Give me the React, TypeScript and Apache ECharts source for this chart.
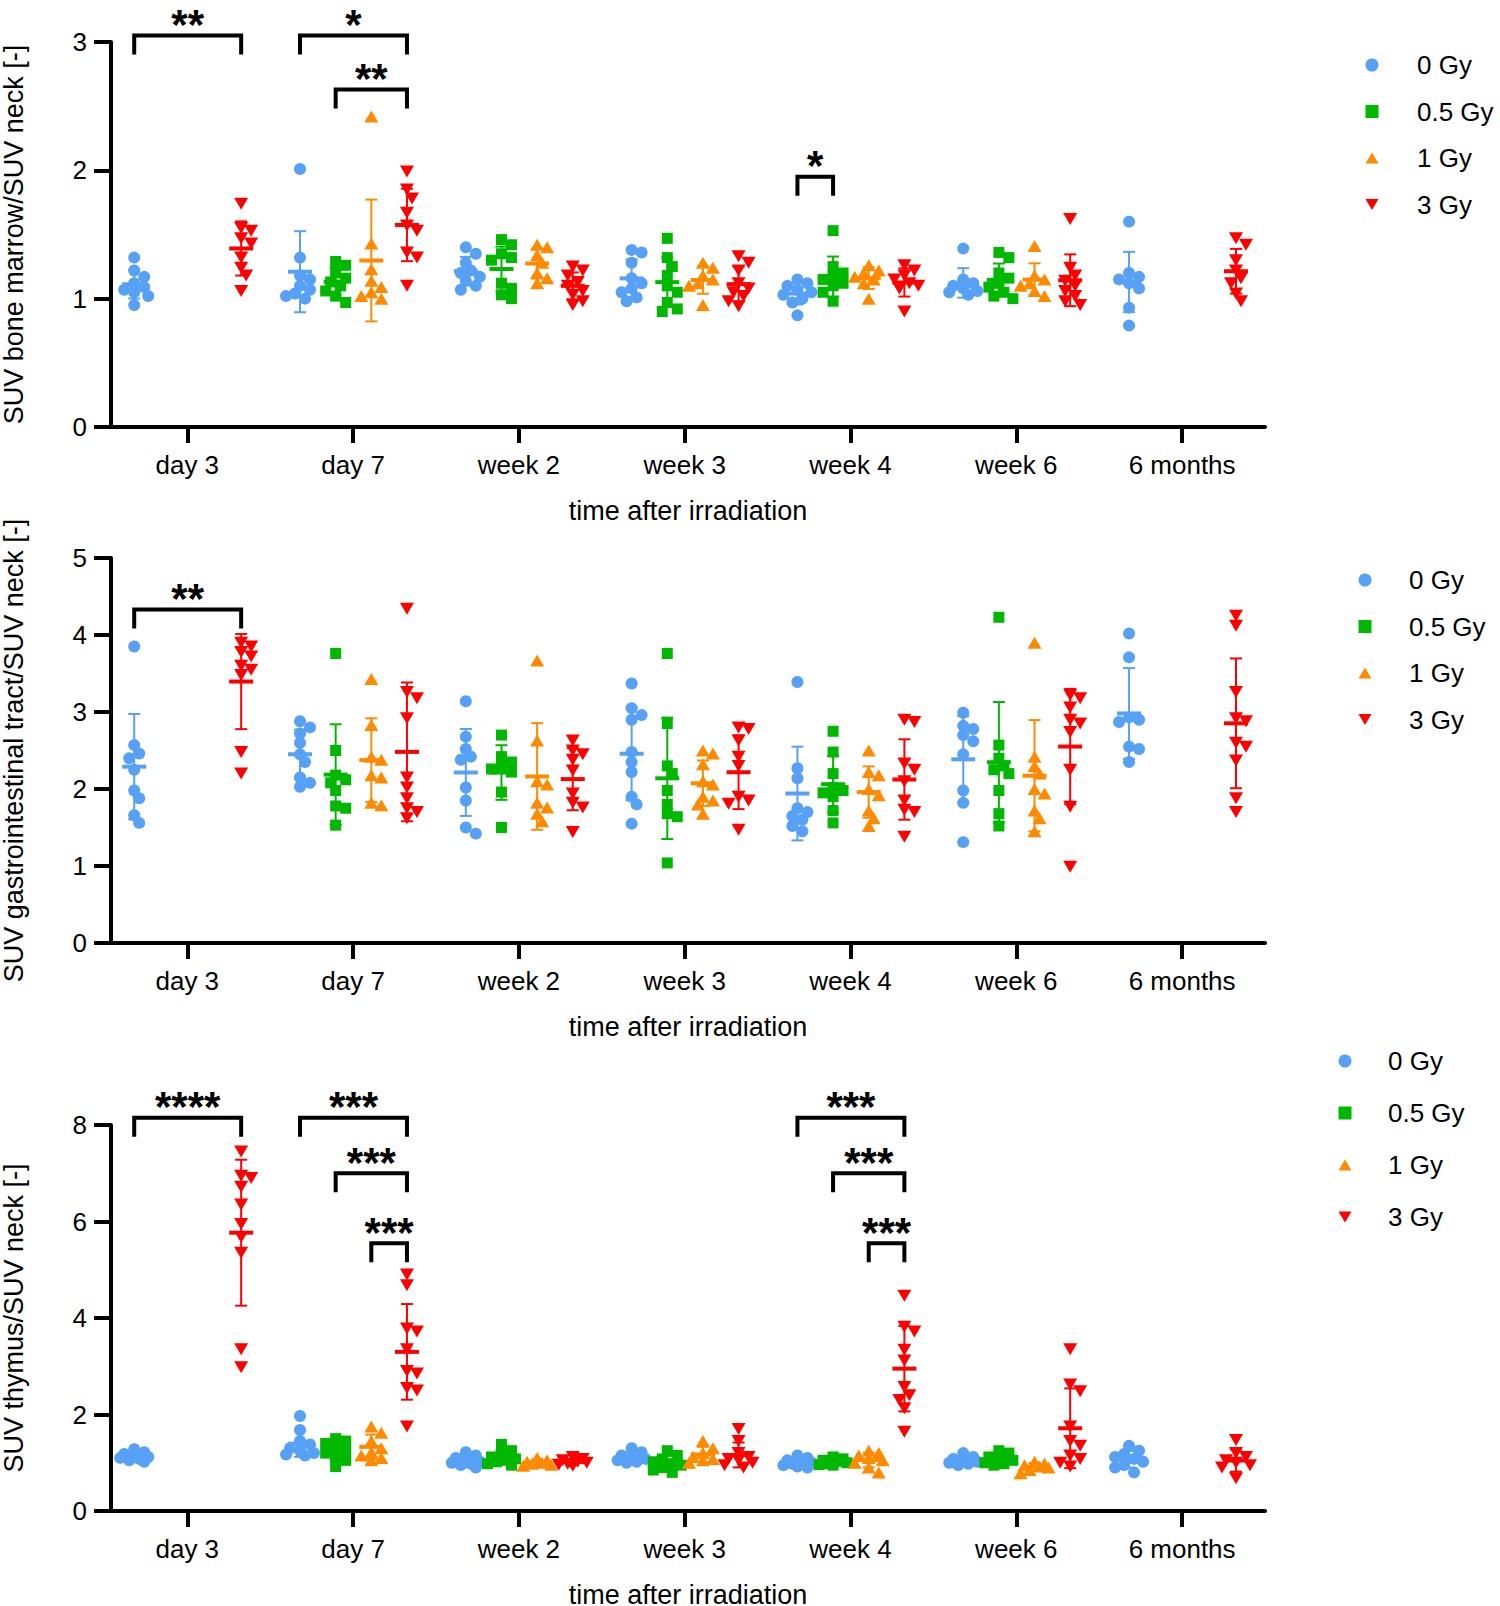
import React, { useEffect, useRef } from "react";
import * as echarts from "echarts";

const categories = ["day 3", "day 7", "week 2", "week 3", "week 4", "week 6", "6 months"];
const doseLabels = ["0 Gy", "0.5 Gy", "1 Gy", "3 Gy"];
const doseColors = ["#56A0F5", "#00B800", "#FF8A00", "#FF0000"];
const yTitles = [
  "SUV bone marrow/SUV neck [-]",
  "SUV gastrointestinal tract/SUV neck [-]",
  "SUV thymus/SUV neck [-]",
];
const xTitle = "time after irradiation";

// Panel 1: bone marrow (one array per dose, one sub-array per time point)
const bm0 = [
  [1.32, 1.22, 1.17, 1.12, 1.09, 1.07, 1.05, 1.02, 0.95],
  [2.01, 1.32, 1.18, 1.15, 1.1, 1.07, 1.04, 1.02, 1.0],
  [1.4, 1.35, 1.28, 1.22, 1.2, 1.17, 1.14, 1.1, 1.07],
  [1.38, 1.36, 1.28, 1.16, 1.12, 1.08, 1.05, 1.01, 0.98],
  [1.15, 1.12, 1.1, 1.07, 1.05, 1.03, 1.0, 0.97, 0.87],
  [1.39, 1.15, 1.12, 1.1, 1.08, 1.06, 1.05, 1.03],
  [1.6, 1.2, 1.17, 1.15, 1.12, 1.08, 0.93, 0.79],
];
const bm05 = [
  [],
  [1.29, 1.26, 1.2, 1.16, 1.13, 1.1, 1.06, 1.02, 0.97],
  [1.46, 1.42, 1.35, 1.32, 1.3, 1.12, 1.08, 1.03, 1.0],
  [1.47, 1.32, 1.25, 1.18, 1.1, 1.05, 0.97, 0.92, 0.9],
  [1.53, 1.25, 1.2, 1.17, 1.15, 1.12, 1.1, 1.05, 0.98],
  [1.36, 1.32, 1.2, 1.16, 1.12, 1.09, 1.05, 1.02, 1.0],
  [],
];
const bm1 = [
  [],
  [2.42, 1.43, 1.23, 1.14, 1.09, 1.05, 1.02, 1.0],
  [1.42, 1.4, 1.34, 1.28, 1.2, 1.16, 1.12],
  [1.28, 1.24, 1.18, 1.15, 1.12, 1.1, 0.95],
  [1.26, 1.22, 1.2, 1.17, 1.15, 1.12, 1.0],
  [1.41, 1.18, 1.15, 1.12, 1.1, 1.06, 1.02],
  [],
];
const bm3 = [
  [1.74, 1.55, 1.53, 1.47, 1.43, 1.32, 1.24, 1.18, 1.06],
  [1.99, 1.85, 1.78, 1.67, 1.57, 1.53, 1.36, 1.32, 1.1],
  [1.25, 1.22, 1.18, 1.13, 1.1, 1.06, 1.03, 0.98, 0.95],
  [1.33, 1.28, 1.22, 1.12, 1.08, 1.05, 1.02, 0.98, 0.94],
  [1.26, 1.22, 1.18, 1.15, 1.12, 1.1, 1.08, 0.9],
  [1.62, 1.24, 1.18, 1.14, 1.1, 1.06, 1.02, 0.98, 0.95],
  [1.47, 1.42, 1.3, 1.22, 1.16, 1.12, 1.04, 0.98],
];

// Panel 2: gastrointestinal tract
const gi0 = [
  [3.85, 2.57, 2.46, 2.4, 2.25, 1.98, 1.88, 1.66, 1.56],
  [2.88, 2.8, 2.72, 2.6, 2.45, 2.35, 2.15, 2.08, 2.03],
  [3.14, 2.68, 2.52, 2.42, 2.38, 2.02, 1.85, 1.5, 1.42],
  [3.37, 3.05, 2.96, 2.9, 2.48, 2.35, 2.22, 1.9, 1.8, 1.55],
  [3.39, 2.27, 2.14, 1.75, 1.7, 1.65, 1.6, 1.52, 1.45],
  [2.99, 2.82, 2.78, 2.7, 2.62, 2.45, 1.98, 1.82, 1.31],
  [4.02, 3.71, 2.93, 2.9, 2.87, 2.55, 2.52, 2.35],
];
const gi05 = [
  [],
  [3.76, 2.5, 2.18, 2.12, 2.08, 1.98, 1.78, 1.75, 1.53],
  [2.7, 2.42, 2.35, 2.3, 2.26, 2.22, 1.96, 1.5],
  [3.76, 2.85, 2.3, 2.2, 1.98, 1.8, 1.68, 1.64, 1.04],
  [2.75, 2.48, 2.2, 2.02, 1.98, 1.95, 1.9, 1.72, 1.56],
  [4.23, 2.57, 2.4, 2.3, 2.25, 2.2, 1.98, 1.68, 1.52],
  [],
];
const gi1 = [
  [],
  [3.43, 2.83, 2.42, 2.38, 2.18, 2.15, 1.82, 1.79],
  [3.67, 2.63, 2.1, 2.06, 1.82, 1.76, 1.68, 1.58],
  [2.5, 2.46, 2.32, 2.1, 2.06, 1.9, 1.85, 1.8, 1.68],
  [2.5, 2.22, 2.18, 2.0, 1.92, 1.72, 1.62, 1.52],
  [3.9, 2.42, 2.3, 2.2, 2.0, 1.94, 1.72, 1.62, 1.45],
  [],
];
const gi3 = [
  [3.9, 3.85, 3.78, 3.72, 3.6, 3.55, 3.48, 2.48, 2.2],
  [4.34, 3.26, 3.18, 2.92, 2.15, 2.02, 1.88, 1.75, 1.7, 1.62],
  [2.63, 2.5, 2.45, 2.38, 2.24, 1.94, 1.82, 1.76, 1.44],
  [2.8, 2.78, 2.63, 2.42, 2.3, 1.9, 1.85, 1.81, 1.47],
  [2.9, 2.87, 2.33, 2.25, 2.1, 1.85, 1.73, 1.7, 1.38],
  [3.22, 3.18, 3.06, 2.9, 2.85, 2.74, 2.25, 1.77, 0.99],
  [4.25, 4.12, 3.26, 2.92, 2.88, 2.6, 2.55, 2.37, 1.88, 1.7],
];

// Panel 3: thymus
const th0 = [
  [1.28, 1.22, 1.18, 1.15, 1.12, 1.1, 1.08, 1.05, 1.02],
  [1.97, 1.68, 1.45, 1.38, 1.3, 1.25, 1.2, 1.17, 1.15],
  [1.22, 1.15, 1.1, 1.05, 1.02, 1.0, 0.98, 0.95, 0.9],
  [1.3, 1.22, 1.15, 1.1, 1.08, 1.05, 1.02, 1.0],
  [1.15, 1.1, 1.05, 1.02, 1.0, 0.98, 0.95, 0.92, 0.9],
  [1.2, 1.12, 1.08, 1.05, 1.02, 1.0, 0.98, 0.95],
  [1.35, 1.25, 1.18, 1.12, 1.08, 1.02, 0.95, 0.9, 0.8],
];
const th05 = [
  [],
  [1.5, 1.45, 1.4, 1.3, 1.25, 1.2, 1.12, 1.05, 0.92],
  [1.38, 1.25, 1.18, 1.12, 1.08, 1.05, 1.02, 0.98, 0.95],
  [1.25, 1.15, 1.08, 1.02, 0.98, 0.95, 0.9, 0.85, 0.8],
  [1.12, 1.08, 1.05, 1.03, 1.0, 0.98, 0.96, 0.95],
  [1.25, 1.2, 1.12, 1.08, 1.05, 1.0, 0.98, 0.95],
  [],
];
const th1 = [
  [],
  [1.75, 1.62, 1.45, 1.3, 1.22, 1.15, 1.1, 1.05],
  [1.1, 1.05, 1.02, 1.0, 0.98, 0.96, 0.94],
  [1.45, 1.3, 1.2, 1.12, 1.08, 1.05, 1.0],
  [1.25, 1.2, 1.15, 1.1, 1.05, 1.0, 0.9, 0.8],
  [1.02, 0.98, 0.95, 0.92, 0.9, 0.85, 0.78],
  [],
];
const th3 = [
  [7.45, 6.95, 6.9, 6.72, 6.35, 5.95, 5.68, 5.35, 3.35, 2.98],
  [4.9, 4.68, 3.78, 3.72, 3.35, 2.9, 2.85, 2.55, 2.5, 1.75],
  [1.12, 1.08, 1.05, 1.02, 1.0, 0.98, 0.96, 0.94],
  [1.7, 1.45, 1.2, 1.12, 1.08, 1.05, 1.0, 0.95, 0.9],
  [4.46, 3.82, 3.72, 3.34, 3.12, 2.57, 2.4, 2.3, 2.13, 1.64],
  [3.35, 2.62, 2.48, 1.75, 1.45, 1.35, 1.15, 1.08, 1.0, 0.92],
  [1.47, 1.2, 1.12, 1.05, 1.0, 0.95, 0.9, 0.68],
];

// Significance brackets: [time index, from dose, to dose, bracket height, label]
const bmBrackets: [number, number, number, number, string][] = [
  [0, 0, 3, 3.05, "**"],
  [1, 0, 3, 3.05, "*"],
  [1, 1, 3, 2.63, "**"],
  [4, 0, 1, 1.95, "*"],
];
const giBrackets: [number, number, number, number, string][] = [[0, 0, 3, 4.33, "**"]];
const thBrackets: [number, number, number, number, string][] = [
  [0, 0, 3, 8.15, "****"],
  [1, 0, 3, 8.15, "***"],
  [1, 1, 3, 7.0, "***"],
  [1, 2, 3, 5.55, "***"],
  [4, 0, 3, 8.15, "***"],
  [4, 1, 3, 7.0, "***"],
  [4, 2, 3, 5.55, "***"],
];

const yMax = [3, 5, 8];
const yInterval = [1, 1, 2];

// ---- layout constants ----
const FONT = "'Liberation Sans', Arial, sans-serif";
const GRID_LEFT = 111;
const GRID_WIDTH = 1154;
const X_MIN = -0.46;
const X_MAX = 6.5;
const PX_PER_X = GRID_WIDTH / (X_MAX - X_MIN);
const gridTops = [42, 558, 1125];
const gridHeights = [385, 385, 386];
const doseOffsets = [-0.32, -0.105, 0.11, 0.325];
const legendPos = [
  { iconX: 1372, textX: 1417, top: 52, gap: 20.5 },
  { iconX: 1365, textX: 1409, top: 567, gap: 20.5 },
  { iconX: 1345, textX: 1388, top: 1048, gap: 26 },
];
const INV_TRI = "path://M0,0L20,0L10,17Z";
const TRI = "path://M10,0L20,17L0,17Z";
const symbols = ["circle", "rect", "triangle", "triangle"];
const symbolSizes: any[] = [12, 11, [14, 12], [14, 12]];
const legendIcons = ["circle", "rect", TRI, INV_TRI];

function swarmOffsets(vals: number[], pxPerY: number): number[] {
  const order = vals.map((_, i) => i).sort((a, b) => vals[b] - vals[a]);
  const placed: { x: number; y: number }[] = [];
  const res = new Array(vals.length).fill(0);
  const cands = [0, 5, -5, 10, -10, 14, -14];
  const minD = 9;
  for (const i of order) {
    const y = vals[i] * pxPerY;
    let best = 0;
    let bestScore = -1;
    for (const c of cands) {
      let md = Infinity;
      for (const p of placed) md = Math.min(md, Math.hypot(p.x - c, p.y - y));
      if (md >= minD) {
        best = c;
        break;
      }
      if (md > bestScore) {
        bestScore = md;
        best = c;
      }
    }
    placed.push({ x: best, y });
    res[i] = best;
  }
  return res;
}

function meanSd(v: number[]) {
  const n = v.length;
  const m = v.reduce((a, b) => a + b, 0) / n;
  const s = n > 1 ? Math.sqrt(v.reduce((a, b) => a + (b - m) * (b - m), 0) / (n - 1)) : 0;
  return [m, s];
}

function buildOption() {
  const panels = [
    { groups: [bm0, bm05, bm1, bm3], brackets: bmBrackets },
    { groups: [gi0, gi05, gi1, gi3], brackets: giBrackets },
    { groups: [th0, th05, th1, th3], brackets: thBrackets },
  ];
  const grid: any[] = [];
  const xAxis: any[] = [];
  const yAxis: any[] = [];
  const series: any[] = [];
  const legend: any[] = [];
  const ticks = categories.map((_, i) => i);

  panels.forEach((panel, p) => {
    grid.push({
      left: GRID_LEFT,
      top: gridTops[p],
      width: GRID_WIDTH,
      height: gridHeights[p],
      containLabel: false,
      outerBoundsMode: "none",
    });
    xAxis.push({
      gridIndex: p,
      type: "value",
      min: X_MIN,
      max: X_MAX,
      axisLine: { show: true, onZero: false, lineStyle: { color: "#000", width: 4 } },
      axisTick: { show: true, customValues: ticks, length: 16, lineStyle: { color: "#000", width: 4 } },
      axisLabel: {
        show: true,
        customValues: ticks,
        formatter: (v: number) => categories[Math.round(v)],
        fontSize: 26,
        color: "#000",
        fontFamily: FONT,
        margin: 25,
      },
      splitLine: { show: false },
      name: xTitle,
      nameLocation: "middle",
      nameGap: 70,
      nameMoveOverlap: false,
      nameTextStyle: { fontSize: 27, color: "#000", fontFamily: FONT },
    });
    yAxis.push({
      gridIndex: p,
      type: "value",
      min: 0,
      max: yMax[p],
      interval: yInterval[p],
      axisLine: { show: true, onZero: false, lineStyle: { color: "#000", width: 4 } },
      axisTick: { show: true, length: 17, lineStyle: { color: "#000", width: 4 } },
      axisLabel: { fontSize: 26, color: "#000", fontFamily: FONT, margin: 24 },
      splitLine: { show: false },
      name: yTitles[p],
      nameLocation: "middle",
      nameGap: 84,
      nameMoveOverlap: false,
      nameTextStyle: { fontSize: 27, color: "#000", fontFamily: FONT },
    });

    const pxPerY = gridHeights[p] / yMax[p];

    panel.groups.forEach((groupData, g) => {
      const pts: number[][] = [];
      const stats: number[][] = [];
      groupData.forEach((vals, ci) => {
        if (!vals.length) return;
        const offs = swarmOffsets(vals, pxPerY);
        vals.forEach((v, k) => pts.push([ci + doseOffsets[g] + offs[k] / PX_PER_X, v]));
        const [m, s] = meanSd(vals);
        stats.push([ci + doseOffsets[g], m, s]);
      });
      series.push({
        type: "scatter",
        name: doseLabels[g],
        xAxisIndex: p,
        yAxisIndex: p,
        data: pts,
        symbol: symbols[g],
        symbolSize: symbolSizes[g],
        symbolRotate: g === 3 ? 180 : 0,
        itemStyle: { color: doseColors[g], opacity: 1 },
        z: 2,
      });
      const color = doseColors[g];
      series.push({
        type: "custom",
        name: "sd-" + doseLabels[g] + "-" + p,
        xAxisIndex: p,
        yAxisIndex: p,
        data: stats,
        encode: { x: 0, y: 1 },
        clip: false,
        z: 3,
        renderItem: (params: any, api: any) => {
          const x = api.value(0);
          const m = api.value(1);
          const s = api.value(2);
          const c = api.coord([x, m]);
          const t = api.coord([x, m + s]);
          const b = api.coord([x, m - s]);
          const thin = { stroke: color, lineWidth: 2 };
          return {
            type: "group",
            children: [
              { type: "line", shape: { x1: c[0], y1: t[1], x2: c[0], y2: b[1] }, style: thin },
              { type: "line", shape: { x1: c[0] - 6, y1: t[1], x2: c[0] + 6, y2: t[1] }, style: thin },
              { type: "line", shape: { x1: c[0] - 6, y1: b[1], x2: c[0] + 6, y2: b[1] }, style: thin },
              { type: "line", shape: { x1: c[0] - 12, y1: c[1], x2: c[0] + 12, y2: c[1] }, style: { stroke: color, lineWidth: 4 } },
            ],
          };
        },
      });
    });

    const br = panel.brackets;
    series.push({
      type: "custom",
      name: "brackets-" + p,
      xAxisIndex: p,
      yAxisIndex: p,
      data: br.map((b) => [b[0] + doseOffsets[b[1]], b[0] + doseOffsets[b[2]], b[3]]),
      encode: { x: [0, 1], y: 2 },
      clip: false,
      z: 4,
      renderItem: (params: any, api: any) => {
        const a = api.coord([api.value(0), api.value(2)]);
        const b = api.coord([api.value(1), api.value(2)]);
        const leg = 19;
        return {
          type: "group",
          children: [
            {
              type: "polyline",
              shape: { points: [[a[0], a[1] + leg], [a[0], a[1]], [b[0], b[1]], [b[0], b[1] + leg]] },
              style: { stroke: "#000", lineWidth: 4, fill: null },
            },
            {
              type: "text",
              x: (a[0] + b[0]) / 2,
              y: a[1] - 11,
              style: {
                text: br[params.dataIndex][4],
                fill: "#000",
                fontSize: 42,
                fontWeight: "bold",
                fontFamily: FONT,
                align: "center",
                verticalAlign: "middle",
              },
            },
          ],
        };
      },
    });

    const lp = legendPos[p];
    legend.push({
      orient: "vertical",
      left: lp.iconX - 6.5,
      top: lp.top,
      itemWidth: 13,
      itemHeight: 13,
      itemGap: lp.gap,
      selectedMode: false,
      padding: 0,
      data: doseLabels.map((n, i) => ({ name: n, icon: legendIcons[i] })),
      textStyle: {
        fontSize: 26,
        color: "#000",
        fontFamily: FONT,
        lineHeight: 26,
        padding: [0, 0, 0, lp.textX - (lp.iconX + 6.5 + 5)],
      },
    });
  });

  return {
    animation: false,
    backgroundColor: "#fff",
    textStyle: { fontFamily: FONT },
    grid,
    xAxis,
    yAxis,
    legend,
    series,
  };
}

export default function App() {
  const ref = useRef<HTMLDivElement>(null);
  useEffect(() => {
    document.body.style.margin = "0";
    if (!ref.current) return;
    const chart = echarts.init(ref.current, undefined, { renderer: "svg" });
    chart.setOption(buildOption() as any);
    return () => chart.dispose();
  }, []);
  return <div ref={ref} style={{ width: 1500, height: 1606 }} />;
}
